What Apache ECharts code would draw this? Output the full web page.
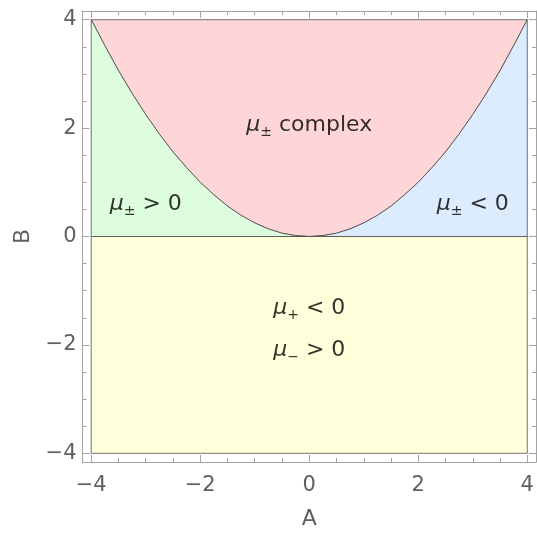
<!DOCTYPE html>
<html lang="en">
<head>
  <meta charset="UTF-8">
  <title>region plot</title>
  <style>
    * { margin: 0; padding: 0; }
    body { background: #ffffff; }
    #chart { width: 537px; height: 535px; }
  </style>
</head>
<body>
  <div id="chart"></div>

  <script src="https://cdn.jsdelivr.net/npm/echarts@6/dist/echarts.min.js"></script>
  <script type="text/javascript">
  // boundary curve (A, B)
  var curveA = [-4, -3.75, -3.5, -3.25, -3, -2.75, -2.5, -2.25, -2, -1.75, -1.5, -1.25, -1, -0.75, -0.5, -0.25, 0,
                0.25, 0.5, 0.75, 1, 1.25, 1.5, 1.75, 2, 2.25, 2.5, 2.75, 3, 3.25, 3.5, 3.75, 4];
  var curveB = [4, 3.52, 3.06, 2.64, 2.25, 1.89, 1.56, 1.27, 1, 0.77, 0.56, 0.39, 0.25, 0.14, 0.06, 0.016, 0,
                0.016, 0.06, 0.14, 0.25, 0.39, 0.56, 0.77, 1, 1.27, 1.56, 1.89, 2.25, 2.64, 3.06, 3.52, 4];
  var rangeMin = -4, rangeMax = 4;

  var regionColors = ['#ffd6d7', '#defcde', '#dcebfd', '#ffffdb'];

  var majorTicks = [-4, -2, 0, 2, 4];
  var minorTicks = [-3.5, -3, -2.5, -1.5, -1, -0.5, 0.5, 1, 1.5, 2.5, 3, 3.5];

  var labelA = [0, -3, 3, 0, 0];
  var labelB = [2.05, 0.6, 0.6, -1.32, -2.1];
  var labelText = [
    '{mu|μ}{sub|±}{t| complex}',
    '{mu|μ}{sub|±}{t| > 0}',
    '{mu|μ}{sub|±}{t| < 0}',
    '{mu|μ}{sub|+}{t| < 0}',
    '{mu|μ}{sub|−}{t| > 0}'
  ];

  function main () {
    var chart = echarts.init(document.getElementById('chart'));

    // polygons in data coordinates
    var curve = curveA.map(function (a, i) { return [a, curveB[i]]; });
    var mid = curveA.indexOf(0);
    var regions = [
      curve,
      [[rangeMin, 0]].concat(curve.slice(0, mid + 1)),
      curve.slice(mid).concat([[rangeMax, 0]]),
      [[rangeMin, 0], [rangeMax, 0], [rangeMax, rangeMin], [rangeMin, rangeMin]]
    ];

    var pad = 0.16;
    var frameColor = '#a3a3a3';
    var font = 'DejaVu Sans';
    function minus(v) { return v < 0 ? '−' + Math.abs(v) : String(v); }

    function axis(pos, ticks, major, extra) {
      var o = {
        type: 'value', position: pos, min: rangeMin - pad, max: rangeMax + pad,
        axisLine: { show: major, onZero: false, lineStyle: { color: frameColor, width: 1 } },
        axisTick: { show: true, inside: true, length: major ? 7 : 4, customValues: ticks,
                    lineStyle: { color: frameColor, width: 1 } },
        axisLabel: { show: false },
        splitLine: { show: false }
      };
      return Object.assign(o, extra || {});
    }
    var labelStyle = function (margin) {
      return { show: true, customValues: majorTicks, formatter: minus, fontSize: 21,
               color: '#5f5f5f', fontFamily: font, margin: margin };
    };

    var rich = {
      mu: { fontStyle: 'italic', fontSize: 22, fontFamily: font, color: '#000' },
      sub: { fontSize: 14, fontFamily: font, color: '#000', padding: [14, 0, 0, 0] },
      t: { fontSize: 22, fontFamily: font, color: '#000' }
    };

    var option = {
      animation: false,
      grid: { left: 82.5, right: 1, top: 11, bottom: 70.5 },
      xAxis: [
        axis('bottom', majorTicks, true, {
          axisLabel: labelStyle(13), name: 'A', nameLocation: 'middle', nameGap: 46,
          nameTextStyle: { fontSize: 22, color: '#5f5f5f', fontFamily: font }
        }),
        axis('bottom', minorTicks, false),
        axis('top', majorTicks, true),
        axis('top', minorTicks, false)
      ],
      yAxis: [
        axis('left', majorTicks, true, {
          axisLabel: labelStyle(6), name: 'B', nameLocation: 'middle', nameGap: 47,
          nameTextStyle: { fontSize: 22, color: '#5f5f5f', fontFamily: font }
        }),
        axis('left', minorTicks, false),
        axis('right', majorTicks, true),
        axis('right', minorTicks, false)
      ],
      series: [
        {
          type: 'custom',
          xAxisIndex: 0, yAxisIndex: 0,
          data: regions.map(function (_, i) { return [0, 0, i]; }),
          renderItem: function (params, api) {
            var pts = regions[params.dataIndex].map(function (p) { return api.coord(p); });
            return {
              type: 'polygon',
              shape: { points: pts },
              style: { fill: regionColors[params.dataIndex], stroke: 'rgba(50,50,50,0.75)', lineWidth: 0.9 }
            };
          },
          silent: true
        },
        {
          type: 'scatter',
          xAxisIndex: 0, yAxisIndex: 0,
          symbolSize: 1,
          itemStyle: { color: 'rgba(0,0,0,0)' },
          data: labelA.map(function (a, i) { return [a, labelB[i]]; }),
          label: {
            show: true, position: 'inside', color: '#000',
            formatter: function (p) { return labelText[p.dataIndex]; },
            rich: rich
          },
          labelLayout: { hideOverlap: false },
          silent: true
        }
      ]
    };
    chart.setOption(option);
  }

  window.addEventListener('load', main);
  </script>
</body>
</html>
